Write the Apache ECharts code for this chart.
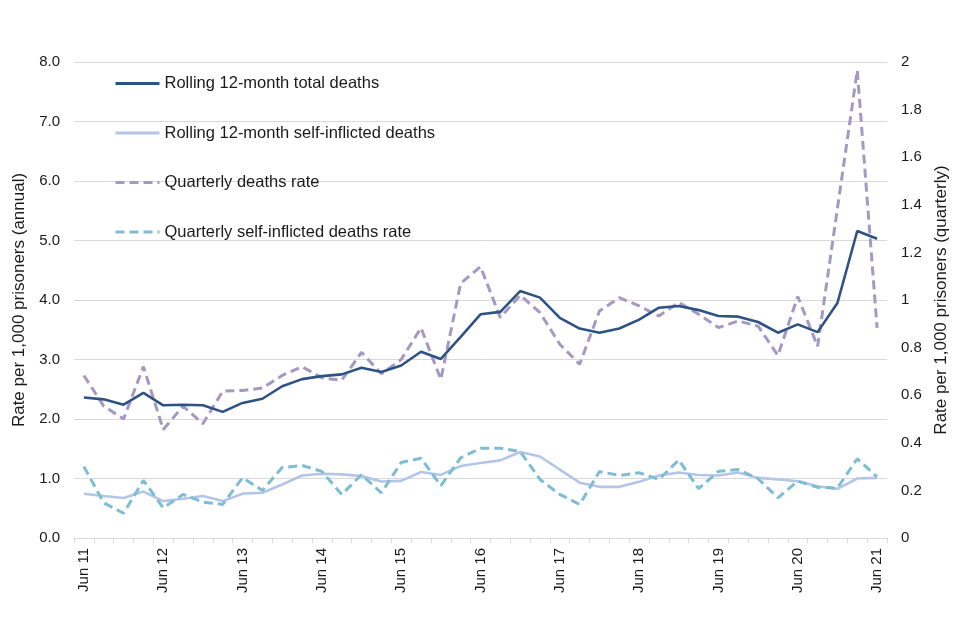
<!DOCTYPE html>
<html>
<head>
<meta charset="utf-8">
<script src="https://cdn.jsdelivr.net/npm/echarts@6/dist/echarts.min.js"></script>
<style>
html,body{margin:0;padding:0;background:#fff;}
#chart{width:960px;height:640px;}
</style>
</head>
<body>
<div id="chart"></div>
<script>
const quarters = [];
const qNames = ['Jun','Sep','Dec','Mar'];
(function(){
  let yr = 11;
  for (let i = 0; i < 41; i++) {
    const q = qNames[i % 4];
    if (q === 'Mar') yr++;
    quarters.push(q + ' ' + yr);
  }
})();

const rollingTotal = [2.36,2.33,2.24,2.44,2.23,2.24,2.23,2.12,2.27,2.34,2.55,2.67,2.72,2.75,2.86,2.79,2.90,3.13,3.01,3.38,3.76,3.80,4.15,4.04,3.70,3.52,3.45,3.52,3.67,3.87,3.90,3.83,3.73,3.72,3.63,3.45,3.59,3.46,3.95,5.16,5.03];
const rollingSelfInflicted = [0.745,0.706,0.672,0.78,0.62,0.66,0.706,0.62,0.745,0.76,0.90,1.05,1.08,1.07,1.04,0.95,0.96,1.11,1.06,1.21,1.26,1.305,1.445,1.37,1.15,0.93,0.86,0.86,0.947,1.05,1.10,1.06,1.05,1.10,1.01,0.986,0.955,0.87,0.826,1.0,1.01];
const quarterlyDeaths = [0.683,0.554,0.50,0.72,0.456,0.554,0.48,0.617,0.62,0.63,0.683,0.72,0.673,0.663,0.78,0.69,0.75,0.883,0.666,1.07,1.14,0.926,1.02,0.947,0.814,0.73,0.954,1.01,0.975,0.933,0.99,0.94,0.884,0.912,0.89,0.767,1.015,0.805,1.385,1.965,0.883];
const quarterlySelfInflicted = [0.30,0.148,0.104,0.242,0.127,0.183,0.151,0.141,0.253,0.20,0.296,0.305,0.28,0.183,0.266,0.19,0.317,0.335,0.22,0.337,0.377,0.377,0.363,0.246,0.183,0.141,0.279,0.263,0.274,0.246,0.328,0.207,0.28,0.288,0.249,0.169,0.239,0.213,0.21,0.333,0.257];

const seriesNames = ['Rolling 12-month total deaths','Rolling 12-month self-inflicted deaths','Quarterly deaths rate','Quarterly self-inflicted deaths rate'];
const leftAxisName = 'Rate per 1,000 prisoners (annual)';
const rightAxisName = 'Rate per 1,000 prisoners (quarterly)';

const FONT = '"Liberation Sans", Arial, sans-serif';
const TXT = '#1a1a1a';
const chart = echarts.init(document.getElementById('chart'));
chart.setOption({
  animation: false,
  backgroundColor: '#fff',
  textStyle: {fontFamily: FONT},
  grid: {left: 74, right: 73, top: 62, bottom: 102, containLabel: false},
  legend: {
    orient: 'vertical',
    left: 109,
    top: 70,
    itemWidth: 44,
    itemHeight: 14,
    itemGap: 32.5,
    itemStyle: {opacity: 0},
    lineStyle: {width: 3},
    textStyle: {fontFamily: FONT, fontSize: 16.5, color: TXT},
    data: seriesNames
  },
  xAxis: {
    type: 'category',
    data: quarters,
    boundaryGap: true,
    axisLine: {lineStyle: {color: '#d9d9d9', width: 1}},
    axisTick: {show: true, interval: 0, length: 5, lineStyle: {color: '#d9d9d9'}},
    axisLabel: {interval: 3, rotate: 90, fontFamily: FONT, fontSize: 15, color: TXT, margin: 10}
  },
  yAxis: [
    {
      type: 'value', min: 0, max: 8, interval: 1,
      name: leftAxisName, nameLocation: 'middle', nameGap: 39, nameRotate: 90,
      nameTextStyle: {fontFamily: FONT, fontSize: 17, color: TXT},
      axisLine: {show: false}, axisTick: {show: false},
      axisLabel: {fontFamily: FONT, fontSize: 15, color: TXT, margin: 14, formatter: v => v.toFixed(1)},
      splitLine: {lineStyle: {color: '#d9d9d9', width: 1}}
    },
    {
      type: 'value', min: 0, max: 2, interval: 0.2,
      name: rightAxisName, nameLocation: 'middle', nameGap: 46, nameRotate: 90,
      nameTextStyle: {fontFamily: FONT, fontSize: 17, color: TXT},
      axisLine: {show: false}, axisTick: {show: false},
      axisLabel: {fontFamily: FONT, fontSize: 15, color: TXT, margin: 14, formatter: v => String(Math.round(v * 10) / 10)},
      splitLine: {show: false}
    }
  ],
  series: [
    {name: seriesNames[0], type: 'line', yAxisIndex: 0, data: rollingTotal, symbol: 'none', z: 4,
     lineStyle: {color: '#2e5283', width: 2.6}, itemStyle: {color: '#2e5283'}},
    {name: seriesNames[1], type: 'line', yAxisIndex: 0, data: rollingSelfInflicted, symbol: 'none', z: 2,
     lineStyle: {color: '#b4c6e7', width: 2.6}, itemStyle: {color: '#b4c6e7'}},
    {name: seriesNames[2], type: 'line', yAxisIndex: 1, data: quarterlyDeaths, symbol: 'none', z: 3,
     lineStyle: {color: '#a599c4', width: 3, type: [9, 5]}, itemStyle: {color: '#a599c4'}},
    {name: seriesNames[3], type: 'line', yAxisIndex: 1, data: quarterlySelfInflicted, symbol: 'none', z: 3,
     lineStyle: {color: '#7ebdd3', width: 3, type: [9, 5]}, itemStyle: {color: '#7ebdd3'}}
  ]
});
</script>
</body>
</html>
